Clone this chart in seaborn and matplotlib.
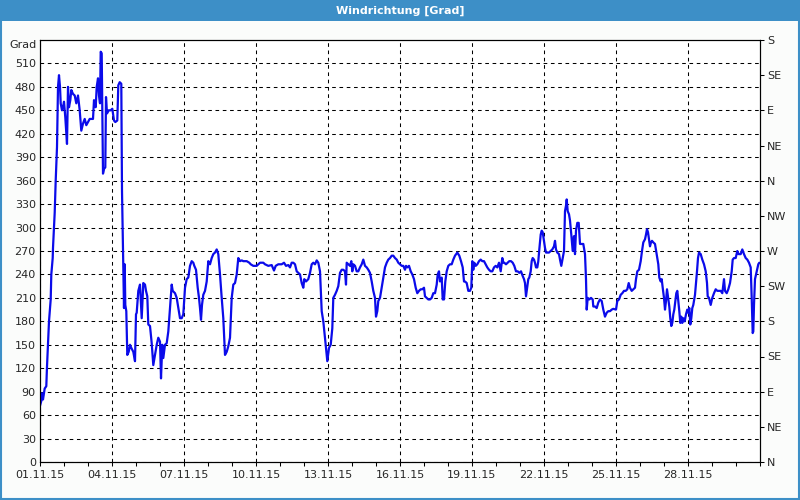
import numpy as np
import pandas as pd
import matplotlib
matplotlib.use("Agg")
import matplotlib.pyplot as plt
import seaborn as sns
from matplotlib.patches import Rectangle

# hours since 01.11.15 00:00 and wind direction in degrees
hours = [
    0, 1.3, 2, 3, 4.7, 6.3, 7, 8, 9, 10.7, 11.3, 12.7, 13, 14, 14.7, 15.7, 17, 18, 19, 20,
    20.7, 22, 23, 24, 25.3, 27, 28, 29, 30.3, 31.3, 33, 34.7, 36.3, 38, 39.7, 41.3, 43, 44.7,
    46.3, 48, 49.7, 53, 54, 55.7, 56.7, 58, 59, 60, 60.7, 61.7, 62.3, 63, 64, 65.3, 66, 67,
    68.7, 70.7, 72.3, 74, 75.3, 77.3, 78.3, 79.7, 81.3, 82, 83.3, 84, 84.7, 85.3, 86.3, 87.3,
    88.7, 90, 91.3, 93.3, 95, 96, 96.7, 98.3, 100, 101.7, 103.3, 105, 106, 107.3, 108.3, 110,
    111.7, 113.3, 115, 116.7, 118.3, 120, 121, 122.3, 123.3, 125, 126.7, 128.3, 130, 131.7,
    132.7, 135, 136.7, 138.3, 140, 141.7, 143.3, 145, 146.7, 148.3, 150, 151.7, 153.3, 154.3,
    156, 157.7, 159, 160, 161, 162, 163.3, 165, 166.7, 168.3, 170, 171.7, 173.3, 175, 176.7,
    178.3, 180, 181.7, 183.3, 185, 186.7, 188.3, 190, 191.7, 193.3, 195, 196.7, 198.3, 200,
    201.7, 203.3, 206.7, 209.3, 210.7, 213.3, 216.7, 218.3, 220, 223.3, 225, 228.3, 231.7,
    234, 235.7, 238.3, 241.7, 244, 246, 248.3,
    250, 251.7, 253.3, 255, 256.7, 258.3, 260, 261.7, 263.3, 264.3, 266, 268.3, 270, 271.7,
    273.3, 275, 276.7, 278.3, 280, 281.7, 283.3, 285, 286, 287.3, 289, 290.7, 292.3, 293.3,
    295, 296.7, 298.3, 300, 301.7, 303.3, 305, 306, 306.7, 308.3, 310, 311.3, 312.3, 313.3,
    315, 316.7, 318.3, 320, 321.7, 323.3, 325, 326.7, 328.3, 330, 331.7, 333.3, 335, 336,
    337.3, 338.3, 340, 341.7, 343.3, 345, 346.7, 348.3, 350, 351.7, 353.3, 355, 356.7, 358.3,
    360, 361.7, 363.3, 365, 366, 367.3, 369, 370.7, 372.3, 374, 375.7, 377.3, 379, 380.7,
    382.3, 384, 385, 386.7, 388.3, 390, 391.7, 393.3, 395, 396.7, 397.7, 399, 400, 401.7,
    402.7, 404, 405.3, 406.7, 408.3,
    410, 411.7, 413.3, 415, 417.3, 419.3, 421, 422.7, 424, 425, 426.7, 428.3, 430, 431.3,
    432.3, 433.3, 434.3, 435.7, 437.3, 439, 440.7, 442.3, 444, 445.7, 447.3, 449, 450.7,
    452.3, 454, 455.7, 457.3, 459, 460.7, 462.3, 463.3, 464.3, 466, 467.7, 469.3, 471, 472.7,
    474.3, 476, 477.7, 479.3, 481, 482.7, 484, 485, 486, 487.3, 488.3, 489.3, 490.7, 491.7,
    492.7, 494, 495, 496, 497.3, 498.3, 499.3, 500.7, 501.7, 502.7, 504, 505, 506, 507.3,
    509, 510.7, 512.3, 514, 515, 516, 517.3, 519, 520, 521.3, 522.7, 524, 525, 526, 526.7,
    527.7, 529, 530, 531.3, 532.7, 534, 535, 536, 537.3, 538.7, 540, 541.7, 543.3, 545, 546,
    546.7, 547.7, 549.3, 551, 552.7, 553.3, 555, 556.7, 558.3, 560, 561.7, 563.3, 565, 566.7,
    568.3,
    570, 571.7, 573.3, 576, 577.3, 579, 580.7, 582.3, 584, 585.7, 587.3, 588.7, 590, 591.7,
    593.3, 595, 596, 597.3, 599, 600.7, 602, 603.3, 605, 606, 607, 608, 609, 610, 611, 612,
    613.3, 615, 616.7, 618.3, 619.3, 620.7, 621.7, 622.7, 624, 625, 626, 627, 628.3, 629.3,
    630.3, 631.3, 632.3, 633.3, 634.3, 635.3, 636.3, 637.3, 638.3, 639.3, 640.3, 641.3,
    642.3, 643.3, 644.7, 646, 647.3, 648.3, 649.3, 650.3, 651.3, 652.3, 653.3, 655, 656, 657,
    658, 659, 660.7, 662.3, 664, 665.7, 667, 667.7, 669, 670.7, 672.3, 674, 675.7, 677.3,
    679, 680.7, 682.3, 684, 685, 686.7, 688.3, 690, 691.7, 692.7, 694, 695.7, 697.3, 698.7,
    700.7, 702.3, 704, 705.7, 707.3, 709, 710.7, 711.7, 712.7, 713.3, 714, 715, 716.7, 718.3,
    719.3,
]
direction = [
    72, 78, 88, 80, 94, 97, 122, 152, 180, 208, 240, 261, 274, 300, 319, 360, 403, 480, 495, 480,
    459, 450, 454, 461, 441, 407, 480, 454, 463, 476, 471, 469, 459, 469, 450, 424, 433, 439,
    431, 435, 439, 439, 463, 454, 480, 491, 469, 459, 525, 523, 454, 369, 375, 377, 467, 446,
    450, 450, 452, 437, 435, 437, 482, 486, 484, 347, 249, 197, 253, 201, 193, 137,
    141, 150, 146, 141, 129, 189, 191, 219, 227, 184, 229, 227, 219, 212, 176, 174,
    152, 124, 137, 150, 159, 154, 107, 150, 133, 150, 152, 167, 197, 227,
    219, 216, 210, 197, 184, 184, 189, 223, 234, 236, 251, 257, 255, 251,
    246, 223, 210, 197, 182, 201, 214, 219, 231, 257, 253, 261, 266, 268, 272,
    266, 240, 210, 184, 137, 141, 148, 159, 210, 227, 229, 240, 261, 257,
    258, 257, 257, 255, 253, 251, 251, 253, 255, 255, 253, 251, 252,
    245, 251, 253, 253, 255, 251, 252,
    249, 255, 255, 253, 244, 242, 240, 229, 223, 234, 231, 234, 242, 253,
    255, 253, 258, 255, 244, 193, 180, 159, 146, 129, 146, 150, 171, 210,
    214, 219, 225, 242, 246, 246, 244, 227, 255, 253, 251, 257, 244, 253,
    251, 244, 244, 249, 253, 259, 251, 249, 246, 242, 231, 219, 210, 186,
    193, 206, 210, 223, 236, 249, 255, 259, 261, 264, 264, 261, 259, 255,
    253, 251, 251, 246, 251, 249, 251, 244, 240, 234, 223, 216, 219, 221,
    221, 223, 212, 210, 208, 208, 210, 216, 216, 227, 240, 244, 231, 236,
    208, 208, 231, 244, 251,
    253, 253, 259, 264, 268, 264, 257, 249, 231, 231, 229, 219, 219, 223,
    257, 246, 255, 251, 253, 257, 259, 257, 257, 253, 249, 246, 244,
    244, 249, 251, 249, 255, 244, 261, 255, 255, 253, 255, 257, 257, 255,
    251, 244, 244, 242, 244, 238, 234, 229, 212, 225, 234, 236, 244, 257,
    261, 259, 255, 249, 249, 257, 272, 291, 296, 294, 283, 274, 268, 268,
    268, 270, 272, 276, 283, 272, 268, 266, 259, 251, 261, 270, 321, 328, 336,
    321, 317, 309, 291, 270, 289, 266, 296, 306, 306, 279, 279, 279, 266, 234,
    195, 210, 208, 210, 208, 199, 199, 197, 204, 208, 206, 195, 186, 191,
    193,
    193, 195, 196, 195, 206, 208, 214, 216, 219, 219, 221, 229, 223, 219,
    221, 223, 234, 244, 246, 257, 270, 281, 285, 291, 298, 294, 285, 276, 281, 283,
    281, 279, 266, 253, 236, 231, 234, 223, 210, 195, 206, 221, 208, 199,
    184, 174, 178, 189, 195, 206, 216, 219, 206, 193, 178, 186,
    178, 184, 180, 189, 195, 191, 197, 176, 184, 197, 201, 214, 229, 244,
    261, 268, 266, 259, 253, 244, 229, 212, 210, 201, 210, 216, 221, 219,
    219, 219, 216, 234, 219, 216, 221, 229, 244, 259, 261, 261, 270, 266,
    266, 272, 266, 261, 259, 255, 249, 210, 165, 167, 201, 234, 244, 253,
    255,
]

date_labels = ["01.11.15", "04.11.15", "07.11.15", "10.11.15", "13.11.15",
               "16.11.15", "19.11.15", "22.11.15", "25.11.15", "28.11.15"]
grad_ticks = list(range(0, 511, 30))
compass_labels = ["N", "NE", "E", "SE", "S", "SW", "W", "NW", "N", "NE", "E", "SE", "S"]

df = pd.DataFrame({"day": np.array(hours) / 24.0, "deg": direction})

sns.set_style("white")
plt.rcParams["font.family"] = ["DejaVu Sans"]

bar_blue = "#3d8fc7"
fig = plt.figure(figsize=(8, 5), dpi=100, facecolor="#fbfcfb")
ax = fig.add_axes([0.05, 0.076, 0.90, 0.844])
ax.set_facecolor("white")

# title bar + frame
fig.patches.append(Rectangle((0, 1 - 21 / 500), 1, 21 / 500, transform=fig.transFigure,
                             facecolor=bar_blue, edgecolor="none", zorder=0))
fig.patches.append(Rectangle((0.001, 0.002), 0.998, 0.996, transform=fig.transFigure,
                             fill=False, edgecolor=bar_blue, linewidth=1.5, zorder=0))
fig.text(0.5, 1 - 10.5 / 500, "Windrichtung [Grad]", color="white", fontsize=8,
         fontweight="bold", ha="center", va="center")

sns.lineplot(data=df, x="day", y="deg", ax=ax, color="#0b0bea", linewidth=1.6, zorder=3)

ax.set_xlim(0, 30)
ax.set_ylim(0, 540)
ax.set_xlabel("")
ax.set_ylabel("")

ax.set_xticks(range(0, 30, 3))
ax.set_xticklabels(date_labels, fontsize=8)
ax.set_xticks(range(0, 31), minor=True)
ax.tick_params(axis="x", which="both", direction="out", length=3, width=0.75,
               color="black", pad=3, bottom=True)
ax.set_yticks(grad_ticks)
ax.set_yticklabels([str(v) for v in grad_ticks], fontsize=8)
ax.tick_params(axis="y", length=0, pad=3, left=True)
ax.text(-0.004, 540, "Grad", transform=ax.get_yaxis_transform(), ha="right", va="top",
        fontsize=8)

dash = (0, (3.5, 3.5))
ax.grid(False)
ax.xaxis.grid(True, which="major", color="black", linestyle=dash, linewidth=0.75)
ax.yaxis.grid(True, which="major", color="black", linestyle=dash, linewidth=0.75)

for s in ax.spines.values():
    s.set_color("black")
    s.set_linewidth(0.8)
    s.set_visible(True)

ax2 = ax.twinx()
ax2.set_ylim(0, 540)
ax2.set_yticks(range(0, 541, 45))
ax2.set_yticklabels(compass_labels, fontsize=8)
ax2.tick_params(axis="y", direction="out", length=3, width=0.75, color="black", pad=2)
ax2.grid(False)
for s in ax2.spines.values():
    s.set_color("black")
    s.set_linewidth(0.8)

fig.savefig("out.png", dpi=100, facecolor=fig.get_facecolor())
